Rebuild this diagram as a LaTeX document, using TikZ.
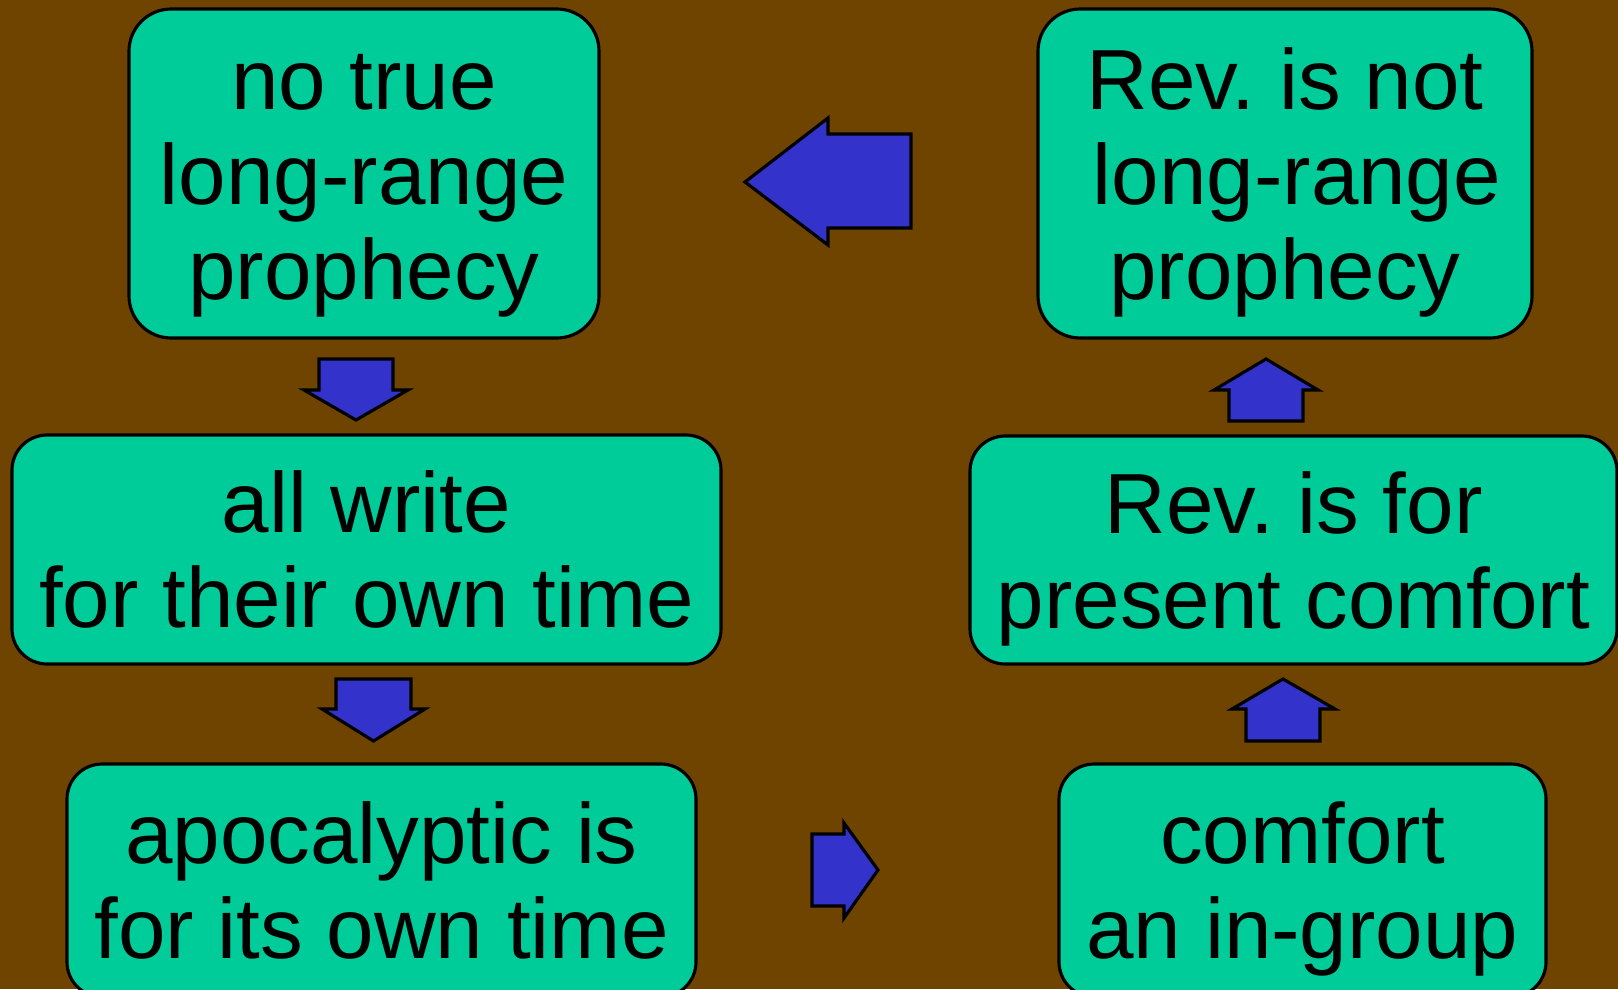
\documentclass[tikz,border=0pt]{standalone}
\usepackage{fontspec}
\setmainfont{Liberation Sans}
\definecolor{bgbrown}{RGB}{111,68,0}
\definecolor{boxgreen}{RGB}{0,204,153}
\definecolor{arrowblue}{RGB}{51,51,204}
\newcommand{\upstrut}{\rule{0pt}{0.93em}}
\newcommand{\downstrut}{\rule[-0.21em]{0pt}{0pt}}
\frenchspacing

\begin{document}
\begin{tikzpicture}[x=0.1mm,y=-0.1mm]
\tikzstyle{claim}=[draw,line width=0.9pt,fill=boxgreen,rounded corners=10pt,align=center,inner sep=0pt,font=\fontsize{24.3}{27}\selectfont]
\tikzstyle{tallclaim}=[claim,rounded corners=12pt]
\tikzstyle{blockarrow}=[draw,line width=0.9pt,fill=arrowblue]

\fill[bgbrown] (0,0) rectangle (1618,989);
\useasboundingbox (0,0) rectangle (1618,989);
\clip (0,0) rectangle (1618,989);

% left column
\node[tallclaim,minimum width=47mm,minimum height=32.9mm] (notrue) at (364,173.5) {\upstrut no true\\long-range\\prophecy\downstrut};
\node[claim,minimum width=70.9mm,minimum height=22.9mm] (allwrite) at (366.5,549.5) {\upstrut all write\\for their own time\downstrut};
\node[claim,minimum width=62.9mm,minimum height=23.3mm] (apocal) at (381.5,880.5) {\upstrut apocalyptic is\\for its own time\downstrut};

% right column
\node[tallclaim,minimum width=49.4mm,minimum height=32.9mm] (revnot) at (1285,173.5) {\upstrut Rev. is not\\\hspace*{0.278em}long-range\\prophecy\downstrut};
\node[claim,minimum width=64.7mm,minimum height=22.8mm] (revfor) at (1293.5,550) {\upstrut Rev. is for\\present comfort\downstrut};
\node[claim,minimum width=48.7mm,minimum height=23.3mm] (ingroup) at (1302.5,880.5) {\upstrut comfort\\an in-group\downstrut};

% arrows
\draw[blockarrow] (745,182) -- (828,118) -- (828,134) -- (911,134) -- (911,228) -- (828,228) -- (828,245) -- cycle;
\draw[blockarrow] (319,359) -- (393,359) -- (393,390) -- (408,390) -- (356,420) -- (304,390) -- (319,390) -- cycle;
\draw[blockarrow] (336,679) -- (411,679) -- (411,709) -- (425,709) -- (373.5,741) -- (322,709) -- (336,709) -- cycle;
\draw[blockarrow] (812,834) -- (844,834) -- (844,823) -- (878,870) -- (844,918) -- (844,906) -- (812,906) -- cycle;
\draw[blockarrow] (1266,359) -- (1318,390) -- (1303,390) -- (1303,421) -- (1229,421) -- (1229,390) -- (1214,390) -- cycle;
\draw[blockarrow] (1283,679) -- (1335,709) -- (1320,709) -- (1320,741) -- (1246,741) -- (1246,709) -- (1232,709) -- cycle;
\end{tikzpicture}
\end{document}
